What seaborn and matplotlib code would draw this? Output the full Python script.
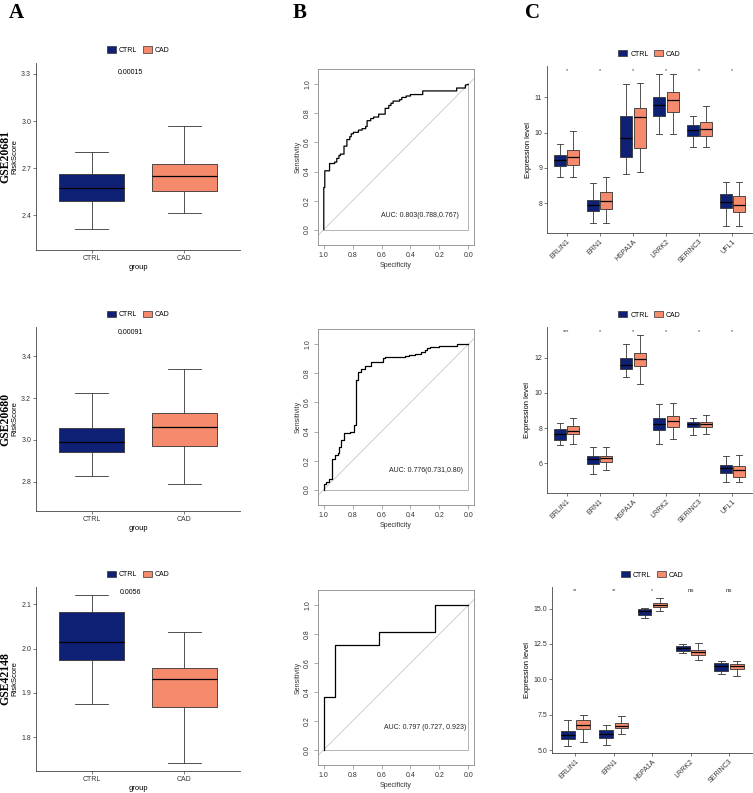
import seaborn as sns
import matplotlib.pyplot as plt
from matplotlib.patches import Patch
import pandas as pd
import numpy as np

# ---- data (five-number summaries: min, q1, median, q3, max) ----
risk_groups = ["CTRL", "CAD"]
risk_20681_ctrl = [2.316, 2.492, 2.577, 2.661, 2.802]
risk_20681_cad = [2.415, 2.558, 2.648, 2.727, 2.969]
risk_20680_ctrl = [2.826, 2.940, 2.990, 3.058, 3.225]
risk_20680_cad = [2.787, 2.970, 3.063, 3.130, 3.340]
risk_42148_ctrl = [1.875, 1.975, 2.014, 2.083, 2.121]
risk_42148_cad = [1.741, 1.869, 1.931, 1.957, 2.037]
risk_pvals = ["0.00015", "0.00091", "0.0056"]

# ROC step paths (specificity, sensitivity)
roc1_spec = [1.0, 1.0, 0.993, 0.993, 0.96, 0.96, 0.925, 0.925, 0.91, 0.91, 0.895, 0.895, 0.885, 0.885,
             0.86, 0.86, 0.84, 0.84, 0.82, 0.82, 0.81, 0.81, 0.795, 0.795, 0.76, 0.76, 0.735, 0.735,
             0.71, 0.71, 0.70, 0.70, 0.675, 0.675, 0.655, 0.655, 0.62, 0.62, 0.575, 0.575, 0.55, 0.55,
             0.535, 0.535, 0.52, 0.52, 0.475, 0.475, 0.46, 0.46, 0.43, 0.43, 0.40, 0.40, 0.315, 0.315,
             0.08, 0.08, 0.02, 0.02, 0.0]
roc1_sens = [0.0, 0.29, 0.29, 0.405, 0.405, 0.455, 0.455, 0.465, 0.465, 0.49, 0.49, 0.51, 0.51, 0.52,
             0.52, 0.575, 0.575, 0.62, 0.62, 0.64, 0.64, 0.66, 0.66, 0.67, 0.67, 0.685, 0.685, 0.695,
             0.695, 0.71, 0.71, 0.75, 0.75, 0.765, 0.765, 0.775, 0.775, 0.795, 0.795, 0.835, 0.835, 0.855,
             0.855, 0.87, 0.87, 0.885, 0.885, 0.895, 0.895, 0.91, 0.91, 0.92, 0.92, 0.93, 0.93, 0.955,
             0.955, 0.975, 0.975, 0.995, 1.0]
roc2_spec = [1.0, 1.0, 0.985, 0.985, 0.965, 0.965, 0.945, 0.945, 0.925, 0.925, 0.905, 0.905, 0.895, 0.895,
             0.88, 0.88, 0.86, 0.86, 0.82, 0.82, 0.79, 0.79, 0.775, 0.775, 0.765, 0.765, 0.745, 0.745,
             0.715, 0.715, 0.67, 0.67, 0.59, 0.59, 0.575, 0.575, 0.44, 0.44, 0.41, 0.41, 0.37, 0.37,
             0.33, 0.33, 0.30, 0.30, 0.285, 0.285, 0.265, 0.265, 0.20, 0.20, 0.08, 0.08, 0.0]
roc2_sens = [0.0, 0.04, 0.04, 0.05, 0.05, 0.07, 0.07, 0.21, 0.21, 0.24, 0.24, 0.25, 0.25, 0.29,
             0.29, 0.345, 0.345, 0.39, 0.39, 0.40, 0.40, 0.445, 0.445, 0.755, 0.755, 0.81, 0.81, 0.83,
             0.83, 0.85, 0.85, 0.88, 0.88, 0.905, 0.905, 0.915, 0.915, 0.92, 0.92, 0.93, 0.93, 0.935,
             0.935, 0.945, 0.945, 0.96, 0.96, 0.975, 0.975, 0.98, 0.98, 0.992, 0.992, 1.0, 1.0]
roc3_spec = [1.0, 1.0, 0.924, 0.924, 0.615, 0.615, 0.23, 0.23, 0.0]
roc3_sens = [0.0, 0.364, 0.364, 0.727, 0.727, 0.818, 0.818, 1.0, 1.0]
roc_auc = ["AUC: 0.803(0.788,0.767)", "AUC: 0.776(0.731,0.80)", "AUC: 0.797 (0.727, 0.923)"]

genes = ["ERLIN1", "ERN1", "HSPA1A", "LRRK2", "SERINC3", "UFL1"]
expr1_ctrl = [[8.74, 9.04, 9.23, 9.36, 9.68], [7.45, 7.77, 7.94, 8.10, 8.58], [8.83, 9.31, 9.85, 10.46, 11.38],
              [9.96, 10.48, 10.78, 11.01, 11.66], [9.60, 9.91, 10.06, 10.20, 10.47], [7.36, 7.86, 8.04, 8.26, 8.60]]
expr1_cad = [[8.74, 9.08, 9.31, 9.50, 10.04], [7.45, 7.83, 8.07, 8.32, 8.75], [8.87, 9.57, 10.43, 10.70, 11.39],
             [9.96, 10.58, 10.93, 11.15, 11.66], [9.60, 9.91, 10.09, 10.30, 10.74], [7.36, 7.75, 7.96, 8.20, 8.60]]
expr1_sig = ["*", "*", "*", "*", "*", "*"]
expr2_ctrl = [[7.04, 7.31, 7.68, 7.95, 8.29], [5.38, 5.98, 6.25, 6.40, 6.93], [10.90, 11.34, 11.60, 11.96, 12.80],
              [7.12, 7.91, 8.21, 8.57, 9.35], [7.63, 8.08, 8.23, 8.35, 8.59], [4.96, 5.45, 5.75, 5.92, 6.40]]
expr2_cad = [[7.08, 7.67, 7.85, 8.10, 8.59], [5.64, 6.08, 6.30, 6.43, 6.93], [10.52, 11.51, 11.92, 12.28, 13.31],
             [7.38, 8.08, 8.42, 8.69, 9.43], [7.68, 8.08, 8.23, 8.35, 8.76], [4.96, 5.22, 5.60, 5.85, 6.49]]
expr2_sig = ["***", "*", "*", "*", "*", "*"]
expr3_ctrl = [[5.31, 5.78, 6.06, 6.34, 7.10], [5.38, 5.83, 6.16, 6.39, 6.77], [14.34, 14.55, 14.86, 15.0, 15.07],
              [11.86, 12.0, 12.19, 12.33, 12.52], [10.40, 10.59, 10.92, 11.16, 11.32]]
expr3_cad = [[5.59, 6.49, 6.77, 7.15, 7.50], [6.13, 6.56, 6.70, 6.91, 7.38], [14.83, 15.14, 15.26, 15.38, 15.73],
             [11.34, 11.72, 11.91, 12.10, 12.57], [10.21, 10.73, 10.92, 11.11, 11.32]]
expr3_sig = ["**", "**", "*", "ns", "ns"]

datasets = ["GSE20681", "GSE20680", "GSE42148"]

NAVY = "#0E2175"
SALMON = "#F58A6C"
pal = {"CTRL": NAVY, "CAD": SALMON}

plt.rcParams['font.family'] = ['Liberation Sans', 'DejaVu Sans']
W, H = 753, 793
fig = plt.figure(figsize=(W / 100, H / 100), dpi=100)


def px_axes(l, t, r, b):
    return fig.add_axes([l / W, 1 - b / H, (r - l) / W, (b - t) / H])


def long_frame(names, ctrl, cad):
    rows = []
    for n, c, d in zip(names, ctrl, cad):
        rows += [(n, "CTRL", v) for v in c]
        rows += [(n, "CAD", v) for v in d]
    return pd.DataFrame(rows, columns=["gene", "group", "value"])


def gg_style(ax):
    sns.despine(ax=ax)
    for s in ["left", "bottom"]:
        ax.spines[s].set_color("#444444")
        ax.spines[s].set_linewidth(0.6)
    ax.tick_params(labelsize=5, length=2, width=0.5, color="#444444", labelcolor="#333333", pad=1.5)


def add_legend(ax):
    handles = [Patch(facecolor=NAVY, edgecolor="#333333", linewidth=0.5),
               Patch(facecolor=SALMON, edgecolor="#333333", linewidth=0.5)]
    ax.legend(handles, ["CTRL", "CAD"], ncol=2, loc="lower center", bbox_to_anchor=(0.5, 1.03),
              frameon=False, fontsize=5, handlelength=1.3, handleheight=1.0,
              columnspacing=0.8, handletextpad=0.4, borderpad=0)


box_kw = dict(whis=(0, 100), showfliers=False, saturation=1, linecolor="#333333", linewidth=0.6,
              medianprops=dict(color="black", linewidth=0.9), legend=False)

# ---- column A ----
risk_ctrl = [risk_20681_ctrl, risk_20680_ctrl, risk_42148_ctrl]
risk_cad = [risk_20681_cad, risk_20680_cad, risk_42148_cad]
a_rows = [(63, 250), (327, 511), (587, 771)]
a_ylim = [(2.18, 3.37), (2.66, 3.54), (1.724, 2.139)]
a_ticks = [[2.4, 2.7, 3.0, 3.3], [2.8, 3.0, 3.2, 3.4], [1.8, 1.9, 2.0, 2.1]]
a_ptxt = [3.31, 3.515, 2.126]
for i in range(3):
    ax = px_axes(36, a_rows[i][0], 240, a_rows[i][1])
    df = pd.DataFrame({"group": ["CTRL"] * 5 + ["CAD"] * 5, "value": risk_ctrl[i] + risk_cad[i]})
    sns.boxplot(data=df, x="group", y="value", hue="group", palette=pal, width=0.7, ax=ax, **box_kw)
    ax.set_xlim(-0.6, 1.6)
    ax.set_ylim(*a_ylim[i])
    ax.set_yticks(a_ticks[i])
    ax.set_xlabel("group", fontsize=5.5, labelpad=1.5)
    ax.set_ylabel("RiskScore", fontsize=5.5, labelpad=2)
    gg_style(ax)
    ax.text(0.42, a_ptxt[i], risk_pvals[i], fontsize=5, ha="center", va="center")
    add_legend(ax)
    yc = (a_rows[i][0] + a_rows[i][1]) / 2
    fig.text(5 / W, 1 - yc / H, datasets[i], rotation=90, ha="center", va="center",
             fontsize=8.5, fontweight="bold", family="Liberation Serif")

# ---- column B ----
roc_spec = [roc1_spec, roc2_spec, roc3_spec]
roc_sens = [roc1_sens, roc2_sens, roc3_sens]
b_rows = [(69, 245), (329, 505), (590, 765)]
auc_pos = [(0.335, 0.10), (0.29, 0.134), (0.30, 0.154)]
for i in range(3):
    ax = px_axes(318, b_rows[i][0], 474, b_rows[i][1])
    ax.axline((1, 0), (0, 1), color="#C8C8C8", linewidth=0.6)
    ax.plot([1, 0, 0], [0, 0, 1], color="#A8A8A8", linewidth=0.6)
    sns.lineplot(x=roc_spec[i], y=roc_sens[i], sort=False, estimator=None, color="black",
                 linewidth=0.9, ax=ax)
    ax.set_xlim(1.04, -0.04)
    ax.set_ylim(-0.106, 1.106)
    ax.set_xticks([1.0, 0.8, 0.6, 0.4, 0.2, 0.0])
    ax.set_yticks([0.0, 0.2, 0.4, 0.6, 0.8, 1.0])
    ax.set_yticklabels(["0.0", "0.2", "0.4", "0.6", "0.8", "1.0"], rotation=90, va="center")
    for s in ax.spines.values():
        s.set_color("#888888")
        s.set_linewidth(0.6)
    ax.tick_params(labelsize=5, length=3, width=0.5, color="#888888", labelcolor="#333333", pad=2)
    ax.set_xlabel("Specificity", fontsize=5, labelpad=2, color="#333333")
    ax.set_ylabel("Sensitivity", fontsize=5, labelpad=2, color="#333333")
    ax.text(auc_pos[i][0], auc_pos[i][1], roc_auc[i], fontsize=5, ha="center", va="center",
            color="#222222")

# ---- column C ----
expr_ctrl = [expr1_ctrl, expr2_ctrl, expr3_ctrl]
expr_cad = [expr1_cad, expr2_cad, expr3_cad]
expr_sig = [expr1_sig, expr2_sig, expr3_sig]
c_axes = [(547, 66, 752, 233), (547, 327, 752, 493), (552, 587, 752, 753)]
c_ylim = [(7.16, 11.88), (4.32, 13.74), (4.79, 16.53)]
c_ticks = [[8, 9, 10, 11], [6, 8, 10, 12], [5, 7.5, 10, 12.5, 15]]
c_tlab = [["8", "9", "10", "11"], ["6", "8", "10", "12"], ["5.0", "7.5", "10.0", "12.5", "15.0"]]
c_sigy = [11.76, 13.51, 16.27]
c_xlim = [(-0.59, 5.59), (-0.59, 5.59), (-0.61, 4.6)]
for i in range(3):
    ax = px_axes(*c_axes[i])
    ng = len(expr_ctrl[i])
    df = long_frame(genes[:ng], expr_ctrl[i], expr_cad[i])
    sns.boxplot(data=df, x="gene", y="value", hue="group", hue_order=["CTRL", "CAD"], palette=pal,
                width=0.8, gap=0.1, ax=ax, **box_kw)
    ax.set_xlim(*c_xlim[i])
    ax.set_ylim(*c_ylim[i])
    ax.set_yticks(c_ticks[i])
    ax.set_yticklabels(c_tlab[i])
    ax.set_xticks(range(ng))
    ax.set_xticklabels(genes[:ng], rotation=45, ha="right", rotation_mode="anchor")
    ax.set_xlabel("")
    ax.set_ylabel("Expression level", fontsize=5.5, labelpad=2)
    gg_style(ax)
    for k, s in enumerate(expr_sig[i]):
        ax.text(k, c_sigy[i], s, fontsize=4 if s != "ns" else 4.5, ha="center", va="center",
                color="#333333")
    add_legend(ax)

# panel letters
for x, lab in [(9, "A"), (293, "B"), (525, "C")]:
    fig.text(x / W, 1 - 3 / H, lab, ha="left", va="top", fontsize=15, fontweight="bold",
             family="Liberation Serif")

fig.savefig("out.png", dpi=100)
